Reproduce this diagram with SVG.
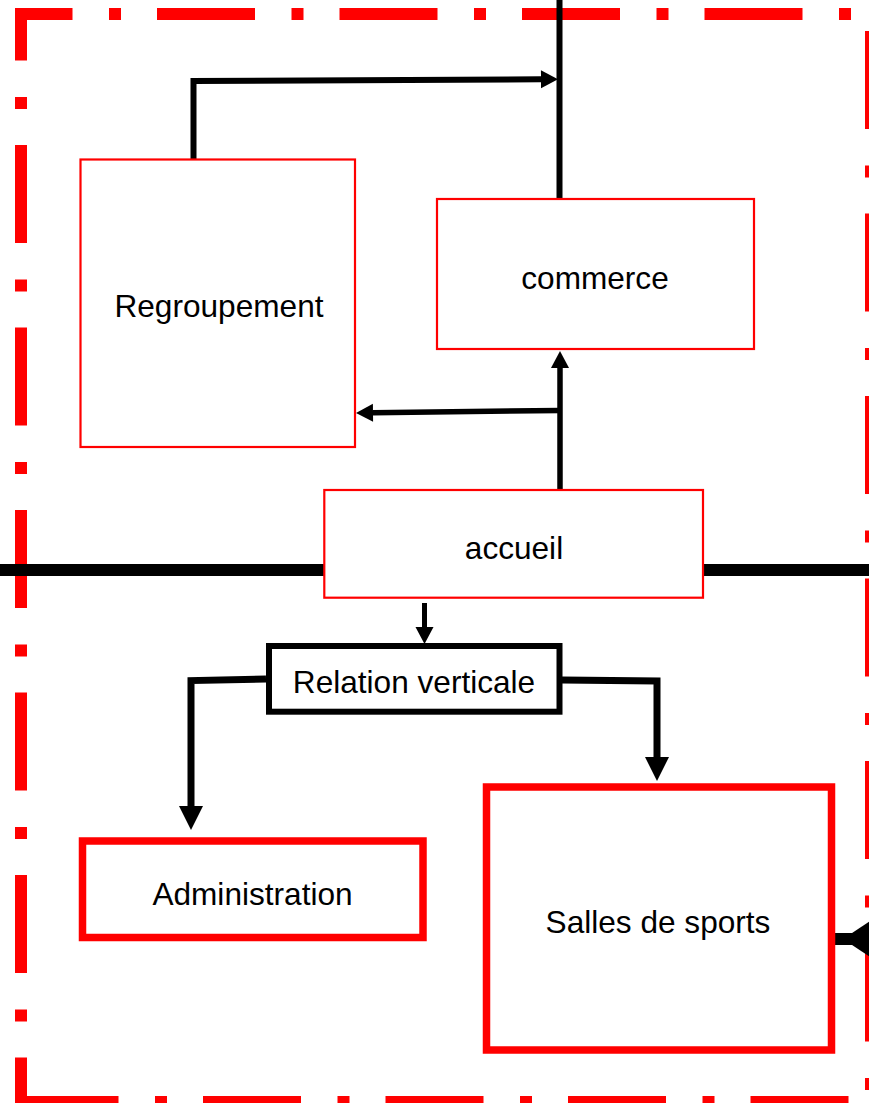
<svg xmlns="http://www.w3.org/2000/svg" width="869" height="1103" viewBox="0 0 869 1103">
<style>
.border{stroke:#ff0000;stroke-width:12;fill:none;stroke-dasharray:98 36.5 12 36;}
.thin{fill:#fff;stroke:#ff0000;stroke-width:2.2;}
.thick{fill:#fff;stroke:#ff0000;stroke-width:7.5;}
.blk{fill:#fff;stroke:#000;stroke-width:6;}
.lbl{font-family:"Liberation Sans",Arial,sans-serif;font-size:31.6px;fill:#000;text-anchor:middle;}
.con{fill:none;stroke:#000;stroke-linejoin:miter;}
</style>
<defs>
<marker id="ah" markerUnits="userSpaceOnUse" markerWidth="18" markerHeight="18" refX="0" refY="9" orient="auto" overflow="visible">
<path d="M0,0 L17,9 L0,18 Z" fill="#000"/>
</marker>
<marker id="ahL" markerUnits="userSpaceOnUse" markerWidth="24" markerHeight="24" refX="0" refY="12" orient="auto" overflow="visible">
<path d="M0,0 L24,12 L0,24 Z" fill="#000"/>
</marker>
</defs>
<rect width="869" height="1103" fill="#fff"/>
<g id="frame">
<line class="border" x1="15" y1="14" x2="880" y2="14" stroke-dashoffset="40.5"/>
<line class="border" x1="21" y1="8" x2="21" y2="1115" stroke-dashoffset="45.5"/>
<line class="border" x1="20.5" y1="1102" x2="880" y2="1102" stroke-dashoffset="0"/>
<line class="border" x1="871" y1="8" x2="871" y2="1115" stroke-dashoffset="159.5"/>
</g>
<g id="connectors">
<path class="con" d="M0,570 L869,570" stroke-width="12"/>
<path class="con" d="M559.5,0 L559.5,199" stroke-width="6"/>
<path class="con" d="M193.5,159 L193.5,81 L541,79.3" stroke-width="6" marker-end="url(#ah)"/>
<path class="con" d="M560,490 L560,368" stroke-width="5.5" marker-end="url(#ah)"/>
<path class="con" d="M560,410.5 L373,412.7" stroke-width="5.5" marker-end="url(#ah)"/>
<path class="con" d="M424.5,603 L424.5,627" stroke-width="5" marker-end="url(#ah)"/>
<path class="con" d="M266,679 L191,680.6 L191,806" stroke-width="7" marker-end="url(#ahL)"/>
<path class="con" d="M562,680 L657,681 L657,757" stroke-width="7" marker-end="url(#ahL)"/>
<path class="con" d="M869,939 L832,939" stroke-width="12"/>
<polygon points="843,939 876,917 876,961" fill="#000"/>
</g>
<g id="regroupement">
<rect class="thin" x="80.5" y="159.5" width="274.5" height="287.5"/>
<text class="lbl" x="219" y="317">Regroupement</text>
</g>
<g id="commerce">
<rect class="thin" x="437" y="199" width="317" height="150"/>
<text class="lbl" x="595" y="289">commerce</text>
</g>
<g id="accueil">
<rect class="thin" x="324.3" y="490" width="378.7" height="107.7"/>
<text class="lbl" x="514" y="559">accueil</text>
</g>
<g id="relation-verticale">
<rect class="blk" x="269" y="646" width="290.5" height="65.7"/>
<text class="lbl" x="414" y="693">Relation verticale</text>
</g>
<g id="administration">
<rect class="thick" x="82.5" y="841" width="340.5" height="96.5"/>
<text class="lbl" x="252.5" y="905">Administration</text>
</g>
<g id="salles-de-sports">
<rect class="thick" x="486.5" y="787" width="345" height="263"/>
<text class="lbl" x="658" y="933">Salles de sports</text>
</g>
</svg>
